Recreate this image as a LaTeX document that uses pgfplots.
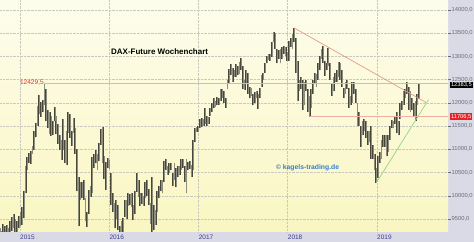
\documentclass[border=0pt]{standalone}
\usepackage{fontspec}
\setmainfont{Liberation Sans}
\usepackage{pgfplots}
\pgfplotsset{compat=1.18}
\usepackage{pgfplotstable}

\definecolor{panel}{HTML}{DADAE6}
\definecolor{bgtop}{HTML}{FDFDEC}
\definecolor{bgbot}{HTML}{FAF6C2}
\definecolor{gridc}{HTML}{C9C9C0}
\definecolor{tickc}{HTML}{6A6A78}
\definecolor{yearc}{HTML}{3A3A8A}
\definecolor{barDark}{HTML}{46463B}
\definecolor{barLight}{HTML}{8E8E7E}
\definecolor{hline}{HTML}{EDB0A2}
\definecolor{trendred}{HTML}{E59A8C}
\definecolor{trendgreen}{HTML}{94D486}
\definecolor{labred}{HTML}{E43030}
\definecolor{boxred}{HTML}{E82222}
\definecolor{copyblue}{HTML}{2F80D0}

% weekly DAX future ranges: week index (0 = week ending 10 Oct 2014), low, high
\pgfplotstableread{
k lo hi
0 9000 9300
1 8900 9250
2 9000 9390
3 9050 9350
4 9100 9380
5 9000 9300
6 9150 9450
7 9250 9550
8 9300 9600
9 9200 9500
10 9150 9450
11 9300 9560
12 9350 9650
13 9380 9760
14 9520 10100
15 10050 10650
16 10560 10830
17 10700 10920
18 10680 10970
19 10900 11080
20 10980 11400
21 11260 11560
22 11500 11930
23 11750 12180
24 11700 12010
25 11800 12060
26 11950 12429.5
27 11600 12300
28 11450 11850
29 11330 11800
30 11280 11720
31 11300 11620
32 11600 11920
33 11320 11720
34 11120 11550
35 10980 11300
36 10780 11200
37 10990 11650
38 10700 11200
39 10660 11400
40 11350 11800
41 11250 11760
42 11080 11400
43 11350 11670
44 10900 11450
45 10100 11000
46 9340 10400
47 9900 10300
48 9950 10300
49 9900 10350
50 9450 9950
51 9320 9650
52 9600 10130
53 9980 10200
54 10050 10840
55 10600 10900
56 10700 10990
57 10550 10900
58 10750 11130
59 11100 11430
60 10700 11470
61 10360 10850
62 10130 10720
63 10590 10820
64 10580 10780
65 9800 10490
66 9650 10050
67 9300 9850
68 9500 9900
69 9260 9800
70 8700 9350
71 9180 9450
72 9100 9520
73 9550 9900
74 9500 9900
75 9780 10060
76 9800 10030
77 9750 10050
78 9480 9800
79 9600 10100
80 10090 10490
81 9980 10350
82 9770 10050
83 9830 10050
84 9780 10000
85 9950 10300
86 9990 10340
87 9800 10150
88 9400 9850
89 9220 10400
90 9260 9800
91 9380 9700
92 9650 10100
93 9950 10200
94 10100 10350
95 10050 10350
96 10300 10750
97 10550 10800
98 10450 10650
99 10500 10700
100 10550 10700
101 10200 10500
102 10350 10700
103 10180 10600
104 10400 10650
105 10450 10650
106 10550 10790
107 10600 10800
108 10300 10650
109 10050 10800
110 10550 10720
111 10580 10750
112 10400 10660
113 10550 11200
114 11150 11450
115 11380 11480
116 11380 11500
117 11450 11650
118 11480 11680
119 11500 11660
120 11550 11900
121 11500 11720
122 11550 11700
123 11720 11900
124 11800 12000
125 11900 12100
126 11920 12050
127 11950 12120
128 11950 12100
129 12050 12300
130 12100 12300
131 12000 12250
132 11900 12100
133 12300 12500
134 12400 12720
135 12600 12840
136 12450 12760
137 12560 12700
138 12550 12840
139 12600 12800
140 12620 12890
141 12700 12960
142 12300 12800
143 12280 12500
144 12400 12700
145 12200 12640
146 12100 12350
147 12150 12320
148 11950 12200
149 12000 12240
150 12100 12250
151 11870 12200
152 12100 12330
153 12350 12600
154 12500 12650
155 12650 12850
156 12850 13000
157 12930 13060
158 12900 13060
159 12980 13320
160 13300 13530
161 13150 13500
162 12850 13150
163 12950 13130
164 12850 13150
165 12950 13200
166 13050 13230
167 13000 13200
168 12900 13100
169 12900 13330
170 13200 13400
171 13150 13480
172 13300 13612
173 12650 13400
174 12050 12900
175 12250 12500
176 12300 12550
177 11850 12500
178 11950 12450
179 12250 12500
180 11800 12300
181 11706.5 12150
182 11900 12300
183 12200 12500
184 12400 12650
185 12350 12620
186 12500 12850
187 12700 13020
188 12950 13150
189 12850 13220
190 12580 12900
191 12700 12850
192 12800 13180
193 12500 12850
194 12150 12400
195 12250 12550
196 12450 12650
197 12450 12700
198 12550 12880
199 12500 12850
200 12350 12700
201 12100 12320
202 12200 12450
203 12300 12500
204 11900 12320
205 11950 12150
206 12000 12450
207 12200 12450
208 12000 12300
209 11500 12000
210 11500 11800
211 11050 11500
212 11300 11620
213 11400 11650
214 11250 11600
215 11100 11400
216 11150 11400
217 10800 11500
218 10800 11100
219 10550 10900
220 10280 10600
221 10380 10850
222 10700 10950
223 10800 11200
224 11050 11300
225 11050 11300
226 10850 11300
227 10950 11300
228 11200 11500
229 11450 11630
230 11450 11620
231 11550 11700
232 11350 11800
233 11300 11600
234 11650 12000
235 11850 12050
236 11950 12250
237 12100 12300
238 12200 12450
239 11850 12350
240 11800 12250
241 11850 12100
242 11700 12000
243 11600 12050
244 11950 12200
245 12080 12420
}\weekly

\begin{document}
\begin{tikzpicture}
\path[use as bounding box] (0,0) rectangle (474bp,242bp);
\fill[panel] (0,0) rectangle (474bp,242bp);
\begin{axis}[
  at={(0,10bp)}, anchor=south west,
  scale only axis, width=448bp, height=232bp,
  xmin=0, xmax=261.9, ymin=9220, ymax=14215,
  clip mode=individual,
  axis background/.style={top color=bgtop, bottom color=bgbot},
  axis line style={draw=none},
  xtick={11.7,63.9,116.1,168.2,220.4},
  xticklabels={2015,2016,2017,2018,2019},
  ytick={9500,10000,...,14000},
  scaled y ticks=false,
  xmajorgrids, ymajorgrids,
  major grid style={densely dotted, gridc, line width=0.5bp},
  ytick pos=right, yticklabel pos=right,
  tick align=outside, major tick length=3bp,
  xtick style={draw=none},
  ytick style={draw=tickc, line width=0.4bp},
  /pgf/number format/assume math mode=true,
  y tick label style={/pgf/number format/fixed, /pgf/number format/fixed zerofill,
    /pgf/number format/precision=1, /pgf/number format/use comma,
    /pgf/number format/1000 sep={}},
  yticklabel style={font=\fontsize{5.8}{6}\selectfont, text=tickc, anchor=west, inner sep=0pt, xshift=0.5bp},
  xticklabel style={font=\fontsize{6.5}{7}\selectfont, text=yearc, anchor=west, inner sep=0pt, yshift=-2bp},
]
% weekly high-low bars
\addplot[barDark, line width=1.9bp, quiver={u=0, v=\thisrow{hi}-\thisrow{lo}}]
  table[x=k, y=lo] {\weekly};
\addplot[barLight, line width=0.45bp, quiver={u=0, v=\thisrow{hi}-\thisrow{lo}}]
  table[x=k, y=lo] {\weekly};
% support and resistance levels
\addplot[hline, line width=0.8bp] coordinates {(26,12429.5) (261.9,12429.5)};
\addplot[hline, line width=0.8bp] coordinates {(181,11706.5) (261.9,11706.5)};
% trend lines
\addplot[trendred, line width=0.7bp] coordinates {(172,13612) (249,12010)};
\addplot[trendgreen, line width=0.7bp] coordinates {(220,10280) (250.5,12070)};
% annotations
\node[anchor=east, text=labred, font=\fontsize{6.6}{7}\selectfont, inner sep=0.5bp]
  at (axis cs:26,12429.5) {12429,5};
\node[font=\bfseries\fontsize{8}{9}\selectfont] at (axis cs:93.3,13096) {DAX-Future Wochenchart};
\node[text=copyblue, font=\bfseries\fontsize{6.8}{8}\selectfont] at (axis cs:179.8,10598) {© kagels-trading.de};
\node[anchor=west, fill=black, text=white, font=\fontsize{5.8}{6}\selectfont, inner sep=0.8bp, xshift=2bp]
  at (axis cs:261.9,12383.5) {12383,5};
\node[anchor=west, fill=boxred, text=white, font=\fontsize{5.8}{6}\selectfont, inner sep=0.8bp, xshift=2bp]
  at (axis cs:261.9,11706.5) {11706,5};
\end{axis}
\end{tikzpicture}
\end{document}
